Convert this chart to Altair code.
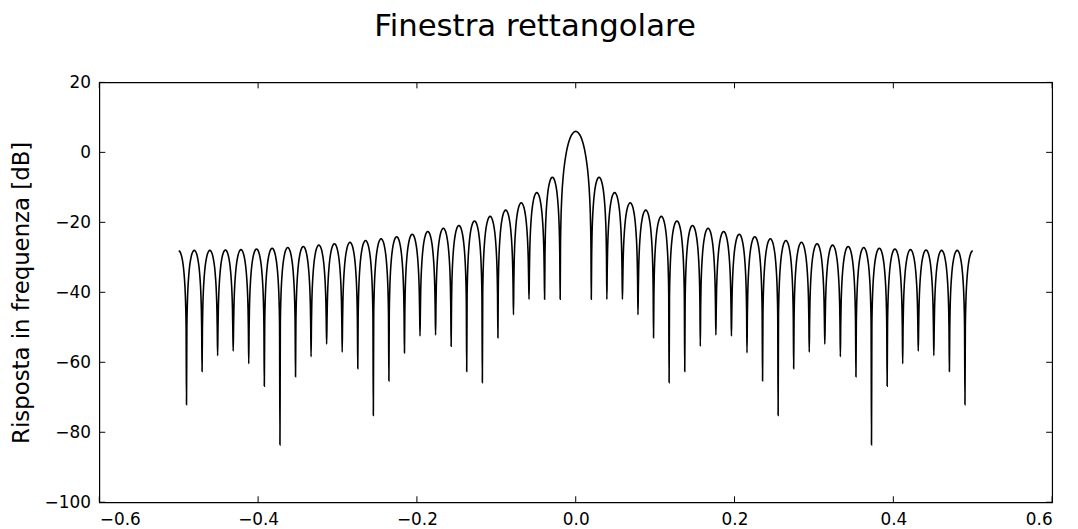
import altair as alt
import pandas as pd

# ---- values ----
# null positions (positive side, mirrored on the negative side)
null_pos = [0.0196, 0.0392, 0.0588, 0.0784, 0.0980, 0.1176, 0.1373, 0.1569,
            0.1765, 0.1961, 0.2157, 0.2353, 0.2549, 0.2745, 0.2941, 0.3137,
            0.3333, 0.3529, 0.3725, 0.3922, 0.4118, 0.4314, 0.4510, 0.4706,
            0.4902]
# depth of each null [dB]
null_db = [-42.0, -42.0, -42.0, -46.4, -53.0, -65.8, -62.6, -55.4, -52.2,
           -52.5, -57.3, -65.3, -75.2, -61.8, -57.1, -54.8, -58.4, -64.1,
           -83.6, -66.8, -60.4, -56.8, -58.1, -62.6, -72.1]
# peak of each side lobe (between null k and k+1) [dB]
side_peak_db = [-7.1, -11.5, -14.4, -16.5, -18.3, -19.6, -20.9, -21.7,
                -22.6, -23.4, -24.1, -24.7, -25.2, -25.7, -26.1, -26.5,
                -26.9, -27.2, -27.4, -27.6, -27.8, -27.9, -28.0, -28.0]
main_peak_db = 6.0
edge_x = 0.5
edge_db = -28.1
# shape of a side lobe: fraction of lobe width from a null -> dB below its peak
lobe_u = [0.025, 0.045, 0.07, 0.10, 0.15, 0.20, 0.27, 0.35, 0.42, 0.50]
lobe_off = [-22.0, -17.0, -13.2, -10.2, -6.9, -4.6, -2.5, -1.0, -0.3, 0.0]
# shape of the main lobe: fraction of half width from the null -> dB below peak
main_u = [0.02, 0.05, 0.10, 0.20, 0.30, 0.40, 0.50, 0.60, 0.70, 0.80, 0.90, 1.00]
main_off = [-33.8, -25.6, -19.2, -12.6, -8.7, -5.9, -3.9, -2.4, -1.3, -0.6, -0.14, 0.0]

x_ticks = [-0.6, -0.4, -0.2, 0.0, 0.2, 0.4, 0.6]
y_ticks = [-100, -80, -60, -40, -20, 0, 20]

# ---- build table for the positive half, then mirror ----
pos = []
half = null_pos[0]
for u, o in zip(main_u, main_off):
    pos.append((null_pos[0] - u * half, main_peak_db + o))
for k in range(len(null_pos)):
    pos.append((null_pos[k], null_db[k]))
    if k < len(side_peak_db):
        a, b = null_pos[k], null_pos[k + 1]
        w = b - a
        for u, o in zip(lobe_u, lobe_off):
            pos.append((a + u * w, side_peak_db[k] + o))
        for u, o in zip(lobe_u[:-1], lobe_off[:-1]):
            pos.append((b - u * w, side_peak_db[k] + o))
a = null_pos[-1]
w = 2 * (edge_x - a)
for u, o in zip(lobe_u, lobe_off):
    pos.append((a + u * w, edge_db + o))

pts = {}
for x, y in pos:
    pts[round(x, 6)] = y
    pts[round(-x, 6)] = y
df = pd.DataFrame(sorted(pts.items()), columns=["f", "db"])

W, H = 960, 423
xs = alt.Scale(domain=[-0.6, 0.6], nice=False, zero=False)
ys = alt.Scale(domain=[-100, 20], nice=False, zero=False)

line = alt.Chart(df).mark_line(color="black", strokeWidth=1.6, interpolate="monotone").encode(
    x=alt.X("f:Q", scale=xs,
            axis=alt.Axis(values=x_ticks, format=".1f", title=None, grid=False,
                          ticks=False, domain=False, labelPadding=9,
                          labelFontSize=17, labelFont="DejaVu Sans", labelColor="black")),
    y=alt.Y("db:Q", scale=ys,
            axis=alt.Axis(values=y_ticks, format="d", title="Risposta in frequenza [dB]",
                          grid=False, ticks=False, domain=False, labelPadding=9,
                          labelFontSize=17, labelFont="DejaVu Sans", labelColor="black",
                          titleFontSize=23, titleFont="DejaVu Sans", titleFontWeight="normal",
                          titleColor="black", titleX=-71, titleY=H / 2, titleAngle=270,
                          titleBaseline="alphabetic", titleAlign="center")),
)

xt = pd.DataFrame({"t": x_ticks})
yt = pd.DataFrame({"t": y_ticks})
TL = 6
tick_b = alt.Chart(xt).mark_rule(color="black", strokeWidth=1).encode(
    x=alt.X("t:Q", scale=xs), y=alt.value(H), y2=alt.value(H - TL))
tick_t = alt.Chart(xt).mark_rule(color="black", strokeWidth=1).encode(
    x=alt.X("t:Q", scale=xs), y=alt.value(0), y2=alt.value(TL))
tick_l = alt.Chart(yt).mark_rule(color="black", strokeWidth=1).encode(
    y=alt.Y("t:Q", scale=ys), x=alt.value(0), x2=alt.value(TL))
tick_r = alt.Chart(yt).mark_rule(color="black", strokeWidth=1).encode(
    y=alt.Y("t:Q", scale=ys), x=alt.value(W), x2=alt.value(W - TL))

chart = alt.layer(line, tick_b, tick_t, tick_l, tick_r).properties(
    width=W, height=H,
    background="white",
    title=alt.TitleParams("Finestra rettangolare", fontSize=31, font="DejaVu Sans",
                          fontWeight="normal", color="black", anchor="middle",
                          baseline="alphabetic", offset=7, dx=-41),
    autosize=alt.AutoSizeParams(type="none"),
    padding={"left": 92, "top": 73, "right": 18, "bottom": 25},
).configure_view(stroke="black", strokeWidth=1.2)

chart.save("out.html", embed_options={"renderer": "svg", "actions": False})
